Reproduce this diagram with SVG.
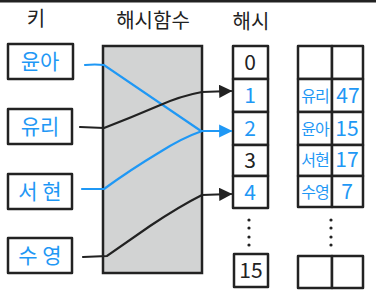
<svg xmlns="http://www.w3.org/2000/svg" width="376" height="301" viewBox="0 0 376 301">
<style>
.box{fill:#fff;stroke:#222;stroke-width:2.5;stroke-linejoin:round}
.fn{fill:#d2d3d3;stroke:#222;stroke-width:2.5}
.ln{fill:none;stroke:#222;stroke-width:2.2;stroke-linecap:round}
.lb{fill:none;stroke:#1f98f5;stroke-width:2.2;stroke-linecap:round}
.t{font-family:"Noto Sans CJK KR","Noto Sans",sans-serif;text-anchor:middle}
.h{font-size:20px;fill:#222}
.k{font-size:21px;fill:#1f98f5}
.nb{font-size:21px;fill:#222}
.nbl{font-size:21px;fill:#1f98f5}
.s{font-size:16px;fill:#1f98f5;letter-spacing:-1px}
.d{fill:#222}
</style>
<defs>
<marker id="ab" viewBox="0 0 10 10" refX="9" refY="5" markerWidth="6" markerHeight="6" orient="auto" markerUnits="strokeWidth"><path d="M0,0L10,5L0,10z" fill="#222"/></marker>
<marker id="ablue" viewBox="0 0 10 10" refX="9" refY="5" markerWidth="6" markerHeight="6" orient="auto" markerUnits="strokeWidth"><path d="M0,0L10,5L0,10z" fill="#1f98f5"/></marker>
</defs>
<rect x="0" y="0" width="376" height="2.5" fill="#222"/>
<g id="headers">
<text class="t h" x="36" y="26">키</text>
<text class="t h" x="153" y="28">해시함수</text>
<text class="t h" x="251" y="29">해시</text>
</g>
<g id="hashfn"><rect class="fn" x="103" y="46" width="99" height="227"/></g>
<g id="key-yuna"><rect class="box" x="8" y="44" width="65" height="35"/><text class="t k" x="40" y="69">윤아</text></g>
<g id="key-yuri"><rect class="box" x="8" y="109" width="64" height="35"/><text class="t k" x="40" y="134">유리</text></g>
<g id="key-seohyun"><rect class="box" x="8" y="174" width="64" height="35"/><text class="t k" x="40" y="199">서 현</text></g>
<g id="key-sooyoung"><rect class="box" x="8" y="238" width="64" height="35"/><text class="t k" x="40" y="263">수 영</text></g>
<g id="hash">
<rect class="box" x="233" y="46" width="35" height="33"/><text class="t nb" x="250" y="70">0</text>
<rect class="box" x="233" y="79" width="35" height="33"/><text class="t nbl" x="250" y="103">1</text>
<rect class="box" x="233" y="112" width="35" height="33"/><text class="t nbl" x="250" y="136">2</text>
<rect class="box" x="233" y="145" width="35" height="31"/><text class="t nb" x="250" y="168">3</text>
<rect class="box" x="233" y="176" width="35" height="32"/><text class="t nbl" x="250" y="200">4</text>
<circle class="d" cx="249" cy="220" r="1.6"/><circle class="d" cx="249" cy="228" r="1.6"/><circle class="d" cx="249" cy="237" r="1.6"/><circle class="d" cx="249" cy="245" r="1.6"/>
<rect class="box" x="234" y="254" width="34" height="33"/><text class="t nb" x="251" y="278">15</text>
</g>
<g id="table">
<rect class="box" x="298" y="46" width="34" height="33"/><rect class="box" x="332" y="46" width="31" height="33"/>
<rect class="box" x="298" y="79" width="34" height="33"/><rect class="box" x="332" y="79" width="31" height="33"/>
<rect class="box" x="298" y="112" width="34" height="33"/><rect class="box" x="332" y="112" width="31" height="33"/>
<rect class="box" x="298" y="145" width="34" height="31"/><rect class="box" x="332" y="145" width="31" height="31"/>
<rect class="box" x="298" y="176" width="34" height="31"/><rect class="box" x="332" y="176" width="31" height="31"/>
<text class="t s" x="315" y="102">유리</text><text class="t nbl" x="348" y="103">47</text>
<text class="t s" x="315" y="135">윤아</text><text class="t nbl" x="347" y="136">15</text>
<text class="t s" x="315" y="166">서현</text><text class="t nbl" x="347" y="167">17</text>
<text class="t s" x="315" y="198">수영</text><text class="t nbl" x="347" y="199">7</text>
<circle class="d" cx="331" cy="220" r="1.6"/><circle class="d" cx="331" cy="228" r="1.6"/><circle class="d" cx="331" cy="237" r="1.6"/><circle class="d" cx="331" cy="245" r="1.6"/>
<rect class="box" x="298" y="256" width="34" height="32"/><rect class="box" x="332" y="256" width="31" height="32"/>
</g>
<g id="connectors">
<path class="lb" d="M85,65 Q95,64 104,65 L201,131"/>
<path class="ln" d="M80,127 L104,128 Q130,118 158,106 Q180,96 202,92 L231,91" marker-end="url(#ab)"/>
<path class="lb" d="M82,189 L104,189 Q130,170 160,152 Q182,138 202,131 L231,131" marker-end="url(#ablue)"/>
<path class="ln" d="M83,257 L107,256 L150,226 Q180,206 202,195 L231,194" marker-end="url(#ab)"/>
</g>
</svg>
